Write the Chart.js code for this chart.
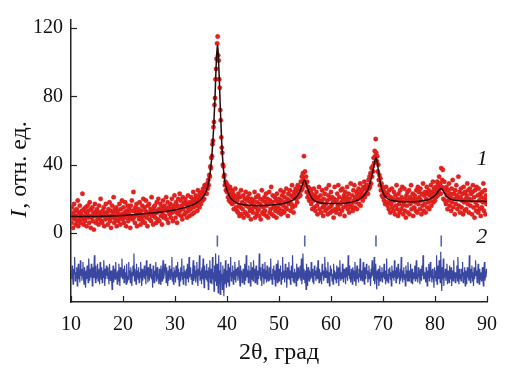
<!DOCTYPE html>
<html><head><meta charset="utf-8">
<script src="https://cdn.jsdelivr.net/npm/chart.js@4/dist/chart.umd.min.js"></script>
<style>html,body{margin:0;padding:0;background:#fff}#wrap{width:513px;height:379px}</style>
</head><body><div id="wrap"><canvas id="c" width="513" height="379"></canvas></div>
<script>
const angleStart = 10, angleStep = 0.1;
const observed = [
12,6,15,9,3,11,17,8,13,5,
10,14,7,19,4,12,9,16,6,11,
8,13,23,10,5,14,9,7,15,12,
4,11,16,9,13,6,18,10,3,14,
9,15,7,12,2,10,17,11,6,13,
14,8,11,5,16,9,12,20,7,10,
6,13,10,15,4,11,8,17,12,9,
11,5,14,9,18,7,13,3,10,16,
9,12,21,6,14,10,8,15,4,12,
13,7,10,17,9,5,14,11,19,8,
10,15,6,12,18,9,4,13,11,16,
7,12,14,9,3,16,10,19,8,13,
24,9,13,6,15,11,17,4,12,10,
14,8,18,11,5,13,9,16,7,20,
10,15,6,13,19,9,12,4,16,11,
17,8,12,14,7,21,10,13,5,15,
11,16,9,13,6,18,12,8,20,14,
7,13,17,10,15,5,12,19,9,14,
16,10,14,21,8,13,18,6,15,12,
11,17,9,14,20,12,7,16,13,22,
15,9,18,12,6,16,20,11,14,23,
13,19,10,16,8,21,14,17,11,18,
20,12,17,9,15,22,13,18,10,16,
14,21,17,11,19,24,15,12,20,18,
22,16,19,13,25,18,21,15,23,20,
17,24,21,19,26,23,20,28,24,27,
27,23,29,26,31,28,34,33,39,38,
44,45,52,54,62,65,75,79,90,96,
102,111,115,104,101,90,85,72,66,56,
50,47,40,39,33,34,28,30,25,29,
24,28,21,26,19,23,27,18,22,25,
17,24,20,14,22,18,26,15,21,13,
19,12,23,16,10,21,15,25,11,18,
14,22,9,17,20,12,24,16,11,19,
21,10,15,23,13,18,8,20,14,17,
12,19,16,24,9,15,21,11,18,13,
22,14,10,17,20,8,16,25,12,19,
15,11,21,13,18,23,10,16,20,9,
17,24,12,19,14,27,11,18,22,15,
10,16,21,13,19,9,23,15,18,12,
20,14,17,25,11,19,22,13,16,24,
12,21,18,15,26,14,20,10,23,17,
19,25,13,22,17,28,15,21,12,24,
22,16,26,20,24,18,28,21,25,23,
27,22,30,25,33,26,35,31,45,29,
36,28,33,24,30,21,27,23,19,26,
20,25,17,23,14,21,19,26,15,22,
13,20,24,16,11,21,18,27,14,19,
22,12,18,25,15,10,20,16,23,13,
17,26,14,19,11,22,28,15,20,12,
24,16,21,13,18,9,20,27,14,19,
12,19,23,16,28,14,21,11,17,25,
18,13,26,20,15,22,10,24,19,16,
21,27,14,18,23,12,20,16,29,15,
17,22,13,25,19,28,15,21,18,24,
14,23,20,26,17,22,29,16,24,21,
25,19,27,22,30,21,26,23,28,25,
28,23,31,26,33,27,35,29,38,33,
39,36,44,41,48,45,55,47,42,45,
36,40,31,34,28,32,25,29,22,27,
21,26,19,24,17,22,27,18,23,16,
22,14,25,18,12,21,17,26,15,20,
13,24,19,11,22,16,28,14,20,10,
23,17,12,25,19,14,21,27,16,11,
18,26,13,20,9,22,16,24,12,19,
25,11,21,17,28,14,19,23,10,20,
15,22,18,13,25,20,12,27,17,24,
21,14,26,19,11,23,16,29,13,22,
17,24,12,20,27,15,23,18,25,14,
22,19,28,16,24,21,30,18,26,23,
19,27,21,25,30,22,28,24,33,26,
29,23,38,27,31,37,20,26,30,19,
24,17,27,22,14,25,19,29,16,23,
21,13,26,18,31,15,23,20,11,25,
17,28,22,14,20,33,16,24,12,21,
26,15,19,23,11,27,18,13,24,20,
14,22,29,17,25,12,20,26,16,23,
19,11,24,28,15,21,9,25,18,13,
27,16,22,12,26,19,14,23,10,21,
15,24,18,29,13,20,25,11,22,17,
19];
const difference = [
-22,-27,-19,-25,-30,-21,-24,-14,-28,-23,
-26,-20,-31,-24,-18,-27,-22,-29,-16,-25,
-21,-28,-23,-17,-26,-30,-20,-25,-32,-22,
-27,-19,-24,-29,-15,-23,-28,-21,-26,-18,
-24,-31,-20,-26,-22,-13,-25,-29,-19,-27,
-23,-18,-28,-25,-21,-30,-17,-24,-27,-20,
-29,-22,-26,-16,-24,-31,-21,-27,-19,-25,
-20,-27,-23,-30,-18,-25,-28,-22,-26,-33,
-25,-19,-29,-24,-21,-27,-17,-26,-23,-30,
-22,-28,-18,-25,-31,-20,-26,-24,-15,-27,
-24,-21,-29,-19,-26,-23,-30,-18,-25,-28,
-27,-17,-24,-22,-29,-20,-26,-31,-23,-19,
-25,-12,-28,-21,-24,-30,-18,-26,-22,-27,
-20,-29,-23,-26,-17,-25,-31,-21,-28,-24,
-26,-19,-27,-22,-30,-16,-25,-23,-29,-20,
-23,-28,-18,-26,-21,-27,-24,-32,-19,-25,
-29,-22,-25,-17,-28,-23,-20,-27,-24,-30,
-21,-26,-30,-19,-24,-28,-22,-16,-27,-25,
-25,-18,-23,-29,-20,-26,-31,-22,-28,-19,
-24,-27,-21,-25,-14,-28,-23,-30,-20,-26,
-22,-29,-19,-26,-24,-17,-27,-21,-31,-23,
-28,-20,-25,-15,-27,-23,-30,-19,-26,-22,
-24,-31,-21,-27,-18,-25,-29,-14,-26,-23,
-20,-27,-24,-30,-22,-16,-28,-25,-19,-26,
-29,-22,-17,-26,-31,-21,-25,-13,-28,-24,
-23,-30,-20,-27,-15,-25,-32,-19,-26,-22,
-27,-18,-28,-22,-33,-20,-26,-16,-29,-24,
-21,-30,-14,-27,-23,-34,-19,-28,-12,-25,
-31,-18,-26,-35,-13,-29,-22,-36,-17,-27,
-24,-33,-19,-28,-37,-21,-30,-16,-26,-32,
-22,-29,-18,-27,-31,-20,-25,-14,-28,-23,
-26,-19,-30,-22,-27,-17,-24,-29,-21,-25,
-20,-28,-23,-16,-26,-31,-19,-25,-22,-29,
-27,-21,-25,-30,-18,-24,-28,-13,-26,-22,
-23,-29,-19,-26,-22,-31,-17,-27,-24,-20,
-28,-16,-25,-21,-29,-23,-19,-26,-30,-22,
-24,-27,-12,-25,-20,-28,-23,-31,-18,-26,
-21,-30,-24,-17,-27,-22,-29,-19,-25,-28,
-26,-20,-28,-23,-15,-27,-24,-30,-21,-25,
-19,-27,-22,-31,-24,-18,-26,-29,-16,-23,
-28,-21,-25,-19,-30,-23,-27,-14,-26,-22,
-24,-29,-18,-26,-22,-32,-20,-27,-25,-17,
-27,-22,-30,-24,-19,-26,-13,-28,-23,-29,
-21,-26,-23,-31,-18,-25,-28,-20,-27,-24,
-26,-19,-28,-15,-30,-23,-12,-27,-21,-25,
-29,-22,-33,-18,-26,-31,-20,-25,-28,-23,
-24,-27,-17,-26,-21,-29,-23,-30,-19,-25,
-22,-28,-25,-20,-27,-16,-24,-29,-21,-26,
-27,-23,-30,-18,-25,-22,-28,-24,-14,-26,
-20,-26,-22,-29,-17,-27,-23,-31,-25,-19,
-25,-21,-28,-24,-30,-18,-26,-22,-27,-23,
-29,-19,-24,-27,-20,-31,-22,-16,-26,-28,
-23,-27,-18,-25,-29,-21,-26,-24,-30,-20,
-26,-22,-28,-13,-25,-19,-27,-23,-29,-21,
-24,-30,-20,-26,-22,-28,-17,-25,-31,-23,
-19,-27,-24,-29,-21,-26,-15,-28,-22,-25,
-28,-23,-17,-26,-30,-20,-25,-27,-18,-24,
-22,-29,-25,-19,-27,-23,-31,-21,-26,-16,
-25,-20,-28,-14,-30,-24,-18,-27,-33,-22,
-27,-21,-31,-25,-19,-28,-23,-26,-20,-29,
-23,-26,-18,-27,-22,-30,-25,-15,-28,-24,
-29,-21,-25,-20,-27,-23,-31,-19,-26,-22,
-24,-28,-16,-26,-22,-29,-20,-25,-27,-18,
-26,-23,-30,-21,-28,-14,-25,-24,-29,-22,
-20,-27,-24,-31,-19,-26,-22,-28,-17,-25,
-28,-22,-26,-18,-29,-24,-21,-30,-23,-27,
-25,-19,-28,-23,-16,-27,-24,-29,-20,-26,
-22,-30,-21,-26,-28,-19,-25,-13,-27,-24,
-27,-23,-29,-20,-25,-31,-22,-26,-18,-28,
-24,-17,-26,-22,-29,-21,-27,-25,-32,-20,
-26,-22,-28,-13,-30,-24,-19,-27,-16,-25,
-29,-11,-25,-34,-20,-27,-15,-31,-23,-26,
-21,-28,-24,-18,-30,-22,-26,-29,-19,-25,
-27,-20,-31,-24,-22,-28,-16,-26,-23,-29,
-23,-26,-19,-28,-14,-25,-30,-21,-27,-24,
-28,-21,-25,-17,-29,-23,-27,-20,-31,-22,
-24,-30,-20,-26,-22,-28,-13,-25,-29,-21,
-26,-19,-28,-23,-31,-20,-27,-24,-16,-25,
-22,-29,-24,-18,-26,-30,-21,-27,-23,-28,
-27,-20,-25,-31,-22,-17,-28,-24,-26,-21,
-24];
const fitAngles = [10,12,14,16,18,20,22,24,26,28,30,31,32,33,34,35,35.5,36,36.5,37,37.4,37.7,37.9,38.1,38.2,38.3,38.5,38.7,39,39.3,39.6,40,40.5,41,42,43,44,46,48,50,51,52,53,53.8,54.3,54.7,54.9,55.1,55.5,56,56.6,57.5,59,61,63,64.5,65.5,66.5,67.3,67.9,68.3,68.6,68.8,69.1,69.5,70,70.7,71.5,73,75,77,78.5,79.5,80.3,80.9,81.2,81.6,82.2,83,84,86,88,90];
const fitValues = [9.8,9.6,9.6,9.8,10.0,10.3,10.7,11.2,11.8,12.6,13.5,14.2,15.0,16.0,17.4,19.6,21.5,24.5,30,42,60,80,97,108,110,106,92,74,52,38,30,25,21.5,19.5,17.5,16.6,16.2,16.0,16.2,16.8,17.4,18.3,20,23,26.5,30,31,30,26,22,19.5,18,17.3,17.2,17.6,18.5,19.8,22.5,27,34,40,44,43,37,29,23.5,20.5,19.2,18.5,18.3,18.6,19.3,20.8,23,25.5,26,24.5,21.5,19.8,19.0,18.7,18.6,18.5];
const braggPositions = [38.15, 54.95, 68.65, 81.2];
const braggLevel = -4.7;
const xTicks = [10,20,30,40,50,60,70,80,90];
const yTicks = [0,40,80,120];
const curveLabels = ['1','2'];
const curveLabelAt = [[89.1, 43],[89.0, -2.5]];

const serif = '"Liberation Serif","DejaVu Serif",serif';
const obsData = observed.map((v,i)=>({x: angleStart + i*angleStep, y: v}));
const diffData = difference.map((v,i)=>({x: angleStart + i*angleStep, y: v}));
const fitData = fitAngles.map((a,i)=>({x: a, y: fitValues[i]}));
const braggData = braggPositions.map(a=>({x: a, y: braggLevel}));

const decor = {
  id: 'decor',
  afterDraw(chart) {
    const {ctx, chartArea: a, scales: {x, y}} = chart;
    ctx.save();
    ctx.strokeStyle = '#222'; ctx.lineWidth = 1.2;
    yTicks.forEach(v => {
      const p = Math.round(y.getPixelForValue(v)) + 0.5;
      ctx.beginPath(); ctx.moveTo(a.left, p); ctx.lineTo(a.left + 6, p); ctx.stroke();
    });
    xTicks.forEach(v => {
      const p = Math.round(x.getPixelForValue(v)) + 0.5;
      ctx.beginPath(); ctx.moveTo(p, a.bottom); ctx.lineTo(p, a.bottom - 6); ctx.stroke();
    });
    ctx.fillStyle = '#111';
    ctx.translate(20, 170);
    ctx.rotate(-Math.PI / 2);
    ctx.textBaseline = 'middle';
    ctx.textAlign = 'left';
    const f1 = 'italic 24px ' + serif, f2 = '24px ' + serif;
    const t1 = 'I', t2 = ', отн. ед.';
    ctx.font = f1; const w1 = ctx.measureText(t1).width;
    ctx.font = f2; const w2 = ctx.measureText(t2).width;
    const s = -(w1 + w2) / 2;
    ctx.font = f1; ctx.fillText(t1, s, 0);
    ctx.font = f2; ctx.fillText(t2, s + w1 + 1, 0);
    ctx.restore();
    ctx.save();
    ctx.fillStyle = '#111';
    ctx.font = 'italic 22px ' + serif;
    ctx.textAlign = 'center'; ctx.textBaseline = 'middle';
    curveLabels.forEach((t, i) => {
      ctx.fillText(t, x.getPixelForValue(curveLabelAt[i][0]), y.getPixelForValue(curveLabelAt[i][1]));
    });
    ctx.restore();
  }
};

new Chart(document.getElementById('c'), {
  type: 'scatter',
  data: {
    datasets: [
      {data: fitData, showLine: true, borderColor: '#2a0808', borderWidth: 1.5, pointRadius: 0, cubicInterpolationMode: 'monotone', order: 0},
      {data: obsData, pointRadius: 2.2, pointBackgroundColor: '#e4221c', pointBorderColor: '#d0141a', pointBorderWidth: 0.4, order: 1},
      {data: diffData, showLine: true, borderColor: '#3a47a0', borderWidth: 1.2, pointRadius: 0, order: 2},
      {data: braggData, pointStyle: 'line', rotation: 90, pointRadius: 5.5, pointBorderColor: '#5565b0', pointBorderWidth: 1.6, order: 3}
    ]
  },
  options: {
    responsive: false, animation: false, events: [],
    layout: {padding: {top: 20, right: 26, bottom: 0, left: 0}},
    plugins: {legend: {display: false}, tooltip: {enabled: false}},
    scales: {
      x: {
        type: 'linear', min: 10, max: 90,
        grid: {display: false, drawTicks: false},
        border: {display: true, color: '#222', width: 1.5},
        ticks: {stepSize: 10, padding: 11, color: '#111', font: {family: serif, size: 20}},
        afterBuildTicks: s => { s.ticks = xTicks.map(v => ({value: v})); },
        afterFit: s => { s.height = 77; },
        title: {display: true, text: '2θ, град', color: '#111', font: {family: serif, size: 24}, padding: {top: 4, bottom: 12}}
      },
      y: {
        type: 'linear', min: -40.4, max: 124.7,
        grid: {display: false, drawTicks: false},
        border: {display: true, color: '#222', width: 1.5},
        ticks: {padding: 8, color: '#111', font: {family: serif, size: 20}},
        afterBuildTicks: s => { s.ticks = yTicks.map(v => ({value: v})); },
        afterFit: s => { s.width = 71; }
      }
    }
  },
  plugins: [decor]
});
</script></body></html>
